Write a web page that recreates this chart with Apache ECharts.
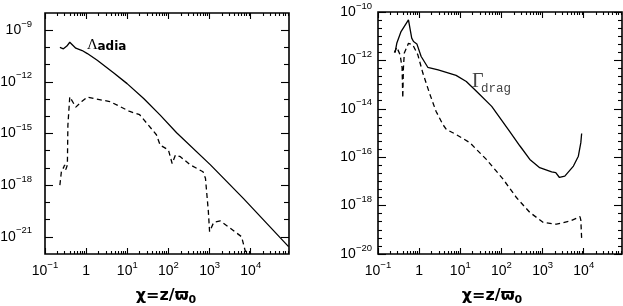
<!DOCTYPE html>
<html><head><meta charset="utf-8">
<script src="https://cdn.jsdelivr.net/npm/echarts@6/dist/echarts.min.js"></script>
<style>html,body{margin:0;padding:0;background:#fff}#c{width:623px;height:306px}</style>
</head><body><div id="c"></div>
<script>
// ---- data ----
const adiaSolidX = [0.23, 0.28, 0.34, 0.40, 0.48, 0.56, 0.80, 1.07, 1.86, 4.7, 9.9, 25, 63, 158, 1050, 6600, 83000];
const adiaSolidY = [1.0e-10, 8.3e-11, 1.2e-10, 2.0e-10, 1.3e-10, 9e-11, 6.6e-11, 4.4e-11, 1.8e-11, 3.3e-12, 7.9e-13, 1.07e-13, 1.17e-14, 1.1e-15, 1.5e-17, 1.7e-19, 2.7e-22];

const adiaDashX = [0.23, 0.25, 0.28, 0.30, 0.32, 0.35, 0.36, 0.40, 0.56, 0.78, 1.07, 1.78, 3.76, 6.6, 11.5, 20, 32, 51, 63, 100, 123, 148, 195, 339, 692, 794, 933, 1000, 1260, 1820, 3160, 6000, 7400, 8900];
const adiaDashY = [1e-18, 6e-18, 1e-17, 1.5e-17, 8e-18, 1.5e-17, 3e-15, 1.35e-13, 3.4e-14, 7.2e-14, 1.3e-13, 1.0e-13, 7.2e-14, 3.7e-14, 1.9e-14, 1.23e-14, 3.2e-15, 8.5e-16, 2.1e-16, 1.1e-16, 1.8e-17, 5.6e-17, 4.5e-17, 1.5e-17, 6e-18, 2.5e-18, 3e-20, 2e-21, 6.9e-21, 8.3e-21, 3.2e-21, 1e-21, 1.4e-22, 1.6e-22];

const dragSolidX = [0.26, 0.286, 0.363, 0.55, 0.66, 0.73, 0.88, 1.12, 1.62, 2.9, 7.9, 14, 25, 58, 158, 282, 490, 850, 1660, 2090, 2570, 3470, 5620, 7400, 8500, 8900];
const dragSolidY = [2.1e-12, 5.1e-12, 1.55e-11, 4.7e-11, 8.3e-12, 6e-12, 4.8e-12, 1.45e-12, 5.2e-13, 4.1e-13, 2.4e-13, 1.35e-13, 5.2e-14, 1.26e-14, 1.17e-15, 2.9e-16, 8.1e-17, 3.7e-17, 2.45e-17, 2.3e-17, 1.45e-17, 1.66e-17, 4.3e-17, 1.1e-16, 4e-16, 9.5e-16];

const dragDashX = [0.25, 0.286, 0.345, 0.385, 0.40, 0.415, 0.436, 0.55, 0.70, 0.93, 1.23, 1.78, 2.57, 3.8, 4.6, 7.9, 17, 43, 110, 234, 490, 1050, 2190, 4680, 8100, 8500, 8900];
const dragDashY = [2.1e-12, 3.5e-12, 1.7e-12, 5e-13, 2.8e-14, 5e-13, 2e-12, 5.1e-12, 4.4e-12, 1.7e-12, 3e-13, 4.5e-14, 7.9e-15, 2.2e-15, 1.4e-15, 8.7e-16, 4e-16, 8.1e-17, 1.23e-17, 2.1e-18, 5.2e-19, 2e-19, 1.7e-19, 2.3e-19, 3.5e-19, 2.5e-19, 4.2e-20];

// ---- tick label values ----
const xTickLabels = [0.1, 1, 10, 100, 1000, 10000];
const leftYTickLabels = [1e-21, 1e-18, 1e-15, 1e-12, 1e-9];
const rightYTickLabels = [1e-20, 1e-18, 1e-16, 1e-14, 1e-12, 1e-10];

const X_MIN = 0.1, X_MAX = Math.pow(10, 4.93);
const LY_MIN = 1e-22, LY_MAX = 1e-8;
const RY_MIN = 1e-20, RY_MAX = 1e-10;

const xMinor = [];
[0.1, 1, 10, 100, 1000, 10000].forEach(d => { for (let k = 2; k <= 9; k++) { const v = d * k; if (v < X_MAX) xMinor.push(v); } });
const leftYMinor = [];
for (let e = -21; e <= -9; e++) if (e % 3 !== 0) leftYMinor.push(Math.pow(10, e));
const rightYMinor = [];
for (let k = 1; k < 30; k++) if (k % 6 !== 0) rightYMinor.push(Math.pow(10, -20 + k / 3));

const GRIDS = [
  { left: 45, top: 13, width: 244, height: 241 },
  { left: 378, top: 12, width: 244, height: 242 }
];

const MINUS = '\u2212';
function fmt(v) {
  const e = Math.round(Math.log10(v));
  if (e === 0) return '{b|1}';
  return '{b|10}{s|' + (e < 0 ? MINUS + (-e) : e) + '}';
}
const RICH = {
  b: { fontSize: 14, fontFamily: 'Liberation Sans', color: '#000', lineHeight: 22 },
  s: { fontSize: 9.5, fontFamily: 'Liberation Sans', color: '#000', lineHeight: 10, verticalAlign: 'top' }
};
const GRID_BASE = { outerBoundsMode: 'none', containLabel: false };

const grids = GRIDS.map(g => Object.assign({ show: true, borderColor: '#000', borderWidth: 1.6, backgroundColor: 'transparent' }, GRID_BASE, g));
const xAxes = [], yAxes = [];

function labelledX(grid) {
  return { type: 'log', logBase: 10, gridIndex: grid, position: 'bottom', min: X_MIN, max: X_MAX,
    splitLine: { show: false }, axisLine: { show: false }, axisTick: { show: false },
    axisLabel: { show: true, customValues: xTickLabels, margin: 6, formatter: fmt, rich: RICH } };
}
function labelledY(grid, min, max, labels, margin) {
  return { type: 'log', logBase: 10, gridIndex: grid, position: 'left', min: min, max: max,
    splitLine: { show: false }, axisLine: { show: false }, axisTick: { show: false },
    axisLabel: { show: true, customValues: labels, margin: margin, formatter: fmt, rich: RICH } };
}
xAxes.push(labelledX(0), labelledX(1));
yAxes.push(labelledY(0, LY_MIN, LY_MAX, leftYTickLabels, 13), labelledY(1, RY_MIN, RY_MAX, rightYTickLabels, 6));

// Tick marks: thin strips along each frame edge whose split lines sit at the tick values.
function tickAxis(gi, min, max, values) {
  return { type: 'log', logBase: 10, gridIndex: gi, min: min, max: max, show: true,
    axisLine: { show: false }, axisLabel: { show: false },
    axisTick: { show: true, length: 0, customValues: values },
    splitLine: { show: true, lineStyle: { color: '#000', width: 1.1, type: 'solid' } } };
}
function dummyAxis(gi) {
  return { type: 'value', gridIndex: gi, min: 0, max: 1, show: false, splitLine: { show: false } };
}
function xStrip(panel, values, len, atTop, xmin, xmax) {
  const g = GRIDS[panel];
  const gi = grids.length;
  grids.push(Object.assign({}, GRID_BASE, { left: g.left, width: g.width, height: len,
    top: atTop ? g.top : g.top + g.height - len, show: false }));
  xAxes.push(tickAxis(gi, xmin, xmax, values));
  yAxes.push(dummyAxis(gi));
}
function yStrip(panel, values, len, atRight, ymin, ymax) {
  const g = GRIDS[panel];
  const gi = grids.length;
  grids.push(Object.assign({}, GRID_BASE, { top: g.top, height: g.height, width: len,
    left: atRight ? g.left + g.width - len : g.left, show: false }));
  xAxes.push(dummyAxis(gi));
  yAxes.push(tickAxis(gi, ymin, ymax, values));
}
[0, 1].forEach(p => {
  [false, true].forEach(top => {
    xStrip(p, xTickLabels, 6, top, X_MIN, X_MAX);
    xStrip(p, xMinor, 3, top, X_MIN, X_MAX);
  });
});
[false, true].forEach(right => {
  yStrip(0, leftYTickLabels, 8, right, LY_MIN, LY_MAX);
  yStrip(0, leftYMinor, 5, right, LY_MIN, LY_MAX);
  yStrip(1, rightYTickLabels, 8, right, RY_MIN, RY_MAX);
  yStrip(1, rightYMinor, 4, right, RY_MIN, RY_MAX);
});

function zip(xs, ys) { return xs.map((x, i) => [x, ys[i]]); }
function line(xs, ys, grid, dashed) {
  return {
    type: 'line', xAxisIndex: grid, yAxisIndex: grid, data: zip(xs, ys),
    showSymbol: false, symbol: 'none', silent: true, animation: false, clip: true,
    lineStyle: { color: '#000', width: 1.3, type: dashed ? [5, 3.5] : 'solid' }
  };
}

const titleRich = {
  a: { fontSize: 16, fontWeight: 'bold', fontFamily: 'DejaVu Sans', color: '#000', lineHeight: 20 },
  s: { fontSize: 11, fontWeight: 'bold', fontFamily: 'DejaVu Sans', color: '#000', lineHeight: 12, verticalAlign: 'bottom' }
};

const option = {
  backgroundColor: '#fff',
  animation: false,
  grid: grids,
  xAxis: xAxes,
  yAxis: yAxes,
  series: [
    line(adiaSolidX, adiaSolidY, 0, false),
    line(adiaDashX, adiaDashY, 0, true),
    line(dragSolidX, dragSolidY, 1, false),
    line(dragDashX, dragDashY, 1, true)
  ],
  graphic: [
    { type: 'text', x: 87, y: 53, style: { text: '\u039B', font: '15px "Liberation Serif"', fill: '#000', verticalAlign: 'bottom' } },
    { type: 'text', x: 97.5, y: 52.5, style: { text: 'adia', font: 'bold 12px "DejaVu Sans"', fill: '#000', verticalAlign: 'bottom' } },
    { type: 'text', x: 472, y: 92, style: { text: '\u0393', font: '20px "Liberation Serif"', fill: '#444', verticalAlign: 'bottom' } },
    { type: 'text', x: 481, y: 95, style: { text: 'drag', font: '12.5px "Liberation Mono"', fill: '#444', verticalAlign: 'bottom' } },
    { type: 'text', x: 166, y: 306, style: { text: '{a|\u03C7=z/\u03D6}{s|0}', rich: titleRich, align: 'center', verticalAlign: 'bottom' } },
    { type: 'text', x: 492, y: 306, style: { text: '{a|\u03C7=z/\u03D6}{s|0}', rich: titleRich, align: 'center', verticalAlign: 'bottom' } }
  ]
};

const chart = echarts.init(document.getElementById('c'), null, { renderer: 'canvas' });
chart.setOption(option);
</script></body></html>
